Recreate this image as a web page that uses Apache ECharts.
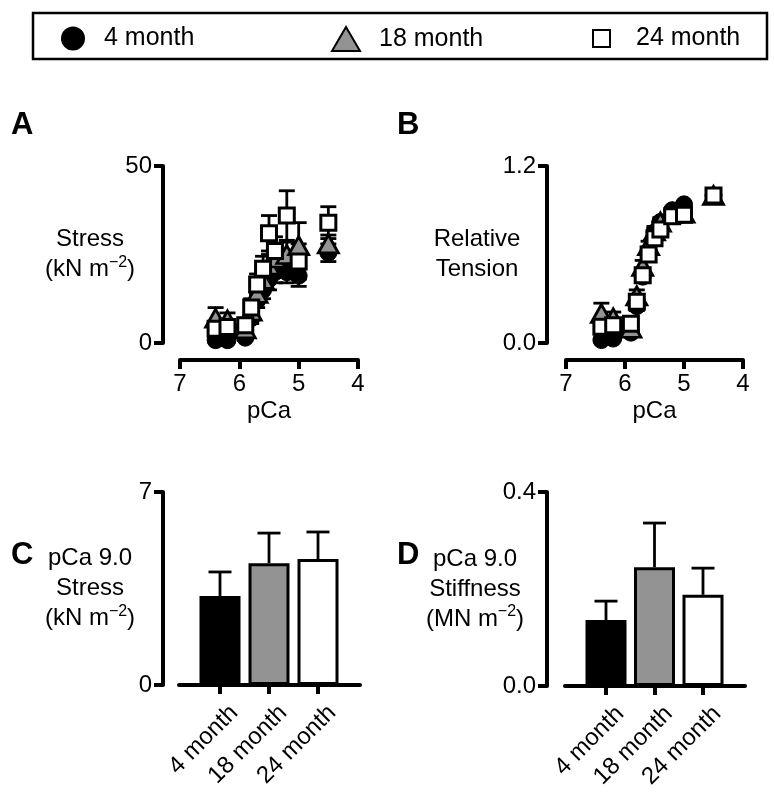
<!DOCTYPE html>
<html>
<head>
<meta charset="utf-8">
<script src="https://cdn.jsdelivr.net/npm/echarts@6/dist/echarts.min.js"></script>
<style>html,body{margin:0;padding:0;background:#fff}#c{width:774px;height:806px}</style>
</head>
<body>
<div id="c"></div>
<script>
// ---- Data ----
const groups = ['4 month', '18 month', '24 month'];
const pCa = [6.4, 6.2, 5.9, 5.8, 5.7, 5.6, 5.5, 5.4, 5.2, 5.0, 4.5];

// Panel A: stress (kN m^-2)
const stress4 = [0.8, 0.8, 1.5, 7, 12, 15, 18, 20, 20, 19, 25.5];
const stress4Err = [0.5, 0.6, 0.8, 1.5, 2, 2.5, 3, 3, 3, 3, 2.5];
const stress18 = [7, 6.5, 4, 9, 14, 18, 22, 24, 25, 27.5, 28];
const stress18Err = [3, 2, 1.5, 2, 2.5, 3, 3, 3, 3.5, 6.5, 2.5];
const stress24 = [4, 4.5, 5, 10, 16.5, 21, 31, 26, 36, 23, 34];
const stress24Err = [1.5, 1.5, 1.5, 2.5, 3, 3.5, 5, 4, 7, 5, 4.5];

// Panel B: relative tension
const rel4 = [0.02, 0.03, 0.07, 0.25, 0.45, 0.62, 0.75, 0.82, 0.9, 0.94, 1.0];
const rel4Err = [0.01, 0.01, 0.02, 0.03, 0.03, 0.03, 0.03, 0.02, 0.02, 0.01, 0.0];
const rel18 = [0.2, 0.17, 0.1, 0.32, 0.52, 0.66, 0.76, 0.82, 0.88, 0.88, 1.0];
const rel18Err = [0.07, 0.04, 0.03, 0.04, 0.04, 0.03, 0.03, 0.03, 0.02, 0.02, 0.0];
const rel24 = [0.11, 0.12, 0.13, 0.28, 0.46, 0.6, 0.71, 0.77, 0.86, 0.87, 1.0];
const rel24Err = [0.03, 0.03, 0.03, 0.03, 0.03, 0.03, 0.03, 0.03, 0.02, 0.02, 0.0];

// Panel C: pCa 9.0 stress (kN m^-2)
const passiveStress = [3.23, 4.42, 4.57];
const passiveStressErr = [0.87, 1.09, 0.98];
// Panel D: pCa 9.0 stiffness (MN m^-2)
const passiveStiff = [0.136, 0.245, 0.188];
const passiveStiffErr = [0.039, 0.091, 0.055];

// ---- Chart ----
const FONT = "'Liberation Sans', Arial, Helvetica, sans-serif";
const barColors = ['#000000', '#939393', '#ffffff'];
const styles = [
  { symbol: 'circle', symbolSize: 17, itemStyle: { color: '#000', borderColor: '#000', borderWidth: 1, opacity: 1 } },
  { symbol: 'triangle', symbolSize: [20, 18], itemStyle: { color: '#939393', borderColor: '#000', borderWidth: 2.8, opacity: 1 } },
  { symbol: 'rect', symbolSize: 15, itemStyle: { color: '#fff', borderColor: '#000', borderWidth: 3, opacity: 1 } }
];

function errRender(capW, both) {
  return function (params, api) {
    const x = api.value(0), y = api.value(1), e = api.value(2);
    const top = api.coord([x, y + e]);
    const bot = api.coord([x, both ? y - e : y]);
    const hw = capW / 2;
    const st = { stroke: '#000', lineWidth: 2.8 };
    const ch = [
      { type: 'line', shape: { x1: top[0], y1: top[1], x2: bot[0], y2: bot[1] }, style: st },
      { type: 'line', shape: { x1: top[0] - hw, y1: top[1], x2: top[0] + hw, y2: top[1] }, style: st }
    ];
    if (both) ch.push({ type: 'line', shape: { x1: bot[0] - hw, y1: bot[1], x2: bot[0] + hw, y2: bot[1] }, style: st });
    return { type: 'group', children: ch };
  };
}

const axisLineStyle = { show: true, onZero: false, lineStyle: { color: '#000', width: 4 } };
const tickStyle = { show: true, length: 9, lineStyle: { color: '#000', width: 4 } };
const labelBase = { color: '#000', fontSize: 24, fontFamily: FONT };
const nameStyleY = {
  color: '#000', fontSize: 24, fontFamily: FONT, lineHeight: 30, align: 'center', verticalAlign: 'middle',
  rich: { sup: { fontSize: 16, fontFamily: FONT, color: '#000', padding: [0, 0, 14, 0], lineHeight: 18 } }
};

function pcaXAxis(grid) {
  return {
    type: 'value', gridIndex: grid, min: 4, max: 7, interval: 1, inverse: true, offset: 17,
    axisLine: axisLineStyle, axisTick: tickStyle, splitLine: { show: false },
    axisLabel: Object.assign({ margin: 12 }, labelBase),
    name: 'pCa', nameLocation: 'middle', nameGap: 51, nameMoveOverlap: false,
    nameTextStyle: { color: '#000', fontSize: 24, fontFamily: FONT, verticalAlign: 'middle' }
  };
}
function valYAxis(grid, max, fmt, name, gap, offset) {
  return {
    type: 'value', gridIndex: grid, min: 0, max: max, interval: max, offset: offset,
    axisLine: axisLineStyle, axisTick: tickStyle, splitLine: { show: false },
    axisLabel: Object.assign({ margin: 11, formatter: fmt }, labelBase),
    name: name, nameLocation: 'middle', nameRotate: 0, nameGap: gap, nameMoveOverlap: false,
    nameTextStyle: nameStyleY
  };
}
function hiddenYAxis(grid, max) {
  return { type: 'value', gridIndex: grid, min: 0, max: max, show: false, splitLine: { show: false } };
}
function lineXAxis(grid) {
  return {
    type: 'value', gridIndex: grid, min: 0, max: 1, axisLine: axisLineStyle,
    axisTick: { show: false }, axisLabel: { show: false }, splitLine: { show: false }
  };
}
function catXAxis(grid) {
  return {
    type: 'category', gridIndex: grid, data: groups,
    axisLine: { show: false },
    axisTick: Object.assign({ alignWithLabel: true, interval: 0 }, tickStyle),
    splitLine: { show: false },
    axisLabel: Object.assign({
      interval: 0, rotate: 45, margin: 10, verticalAlign: 'top', padding: [8, 0, 0, 0], lineHeight: 24
    }, labelBase)
  };
}

const series = [];
const aData = [[stress4, stress4Err], [stress18, stress18Err], [stress24, stress24Err]];
const bData = [[rel4, rel4Err], [rel18, rel18Err], [rel24, rel24Err]];
[[aData, 0], [bData, 1]].forEach(([set, gi]) => {
  set.forEach(([vals, errs], k) => {
    series.push({
      type: 'custom', name: groups[k] + ' SEM', xAxisIndex: gi, yAxisIndex: gi,
      renderItem: errRender(16, true), data: pCa.map((p, i) => [p, vals[i], errs[i]]),
      encode: { x: 0, y: 1 }, silent: true
    });
    series.push(Object.assign({
      type: 'scatter', name: groups[k], xAxisIndex: gi, yAxisIndex: gi,
      data: pCa.map((p, i) => [p, vals[i]])
    }, styles[k]));
  });
});
[[passiveStress, passiveStressErr, 3], [passiveStiff, passiveStiffErr, 5]].forEach(([vals, errs, gi]) => {
  series.push({
    type: 'bar', name: 'bar' + gi, xAxisIndex: gi, yAxisIndex: gi, barWidth: 41,
    itemStyle: { borderColor: '#000', borderWidth: 3 },
    data: vals.map((v, i) => ({ value: v, itemStyle: { color: barColors[i] } }))
  });
  series.push({
    type: 'custom', name: 'err' + gi, xAxisIndex: gi, yAxisIndex: gi,
    renderItem: errRender(23, false), data: vals.map((v, i) => [i, v, errs[i]]),
    encode: { x: 0, y: 1 }, silent: true, z: 3
  });
});

function legendItem(name, left, iw, ih, pad) {
  return {
    data: [name], left: left, top: 26, padding: 0, itemWidth: iw, itemHeight: ih, selectedMode: false,
    textStyle: { color: '#000', fontSize: 25, fontFamily: FONT, padding: [0, 0, 0, pad] }
  };
}

const titleStyle = { color: '#000', fontSize: 31, fontWeight: 'bold', fontFamily: FONT };
const option = {
  backgroundColor: '#fff',
  animation: false,
  title: [
    { text: 'A', left: 11, top: 110, padding: 0, textStyle: titleStyle },
    { text: 'B', left: 397, top: 110, padding: 0, textStyle: titleStyle },
    { text: 'C', left: 11, top: 540, padding: 0, textStyle: titleStyle },
    { text: 'D', left: 397, top: 540, padding: 0, textStyle: titleStyle }
  ],
  legend: [
    legendItem('4 month', 61, 22, 24, 15),
    legendItem('18 month', 331, 28, 24, 14),
    legendItem('24 month', 592, 17, 17, 21)
  ],
  graphic: [{
    type: 'rect', shape: { x: 33, y: 13, width: 734, height: 46 },
    style: { fill: 'none', stroke: '#000', lineWidth: 2.5 }, silent: true
  }],
  grid: [
    { left: 180, top: 166, width: 178, height: 177 },
    { left: 566, top: 166, width: 177, height: 177 },
    { left: 179, top: 492, width: 181, height: 193 },
    { left: 195.5, top: 492, width: 147, height: 193 },
    { left: 565, top: 492, width: 180, height: 194 },
    { left: 581.75, top: 492, width: 145.5, height: 194 }
  ],
  xAxis: [
    pcaXAxis(0), pcaXAxis(1),
    lineXAxis(2), catXAxis(3),
    lineXAxis(4), catXAxis(5)
  ],
  yAxis: [
    valYAxis(0, 50, v => String(v), 'Stress\n(kN m{sup|−2})', 73, 17),
    valYAxis(1, 1.2, v => v.toFixed(1), 'Relative\nTension', 70, 19),
    valYAxis(2, 7, v => String(v), 'pCa 9.0\nStress\n(kN m{sup|−2})', 73, 16),
    hiddenYAxis(3, 7),
    valYAxis(4, 0.4, v => v.toFixed(1), 'pCa 9.0\nStiffness\n(MN m{sup|−2})', 72, 18),
    hiddenYAxis(5, 0.4)
  ],
  series: series
};

const chart = echarts.init(document.getElementById('c'), null, { renderer: 'canvas' });
chart.setOption(option);
</script>
</body>
</html>
